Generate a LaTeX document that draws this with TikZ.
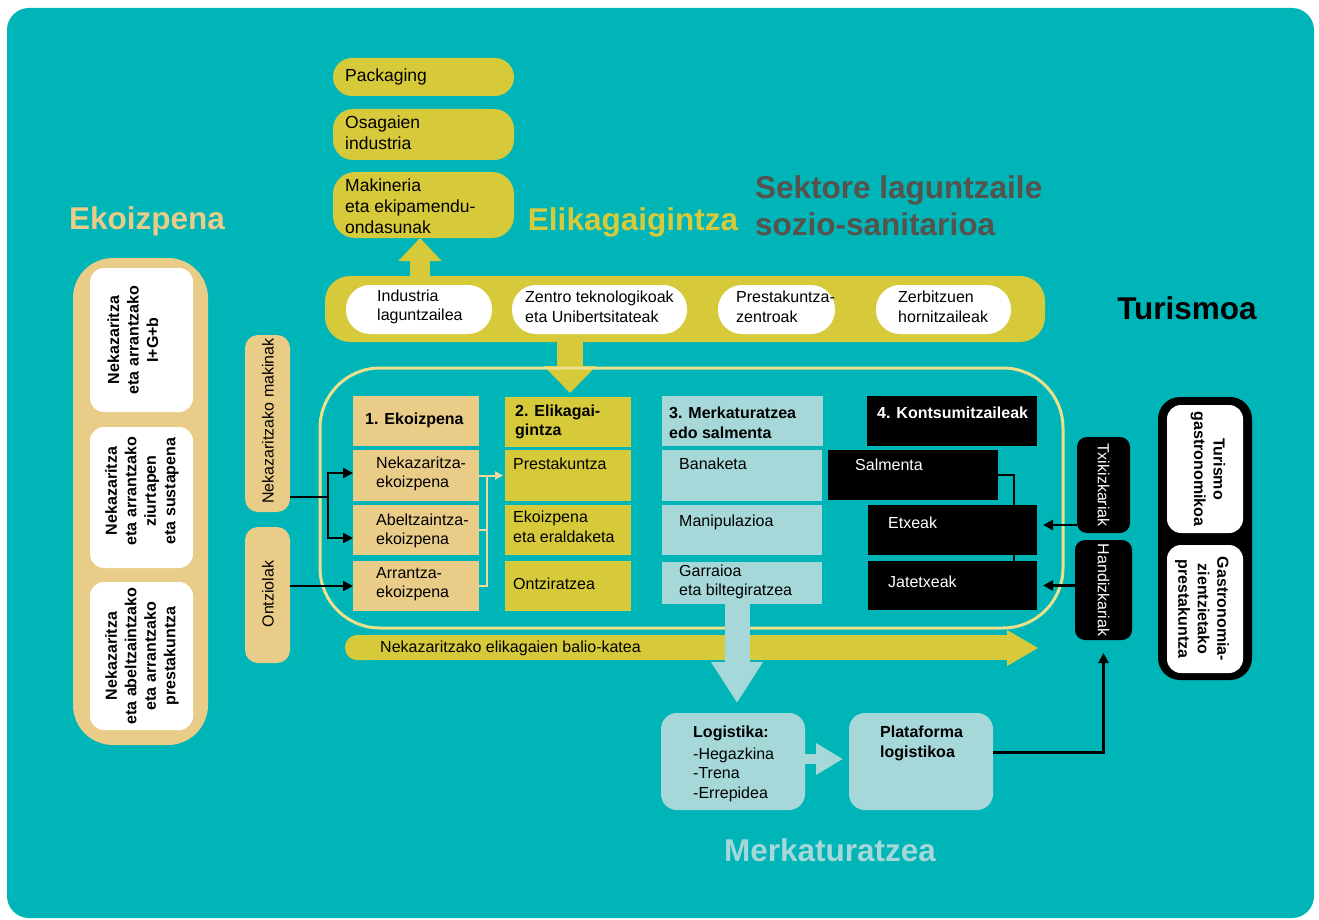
\documentclass[tikz,border=0pt]{standalone}
\usepackage{fontspec}
\setmainfont{Liberation Sans}
\usetikzlibrary{arrows.meta,fit,calc}
\definecolor{bgteal}{RGB}{0,181,184}
\definecolor{tanc}{RGB}{233,204,136}
\definecolor{yel}{RGB}{214,202,58}
\definecolor{lblue}{RGB}{166,216,218}
\definecolor{paleline}{RGB}{236,224,140}
\definecolor{cream}{RGB}{240,218,160}
\definecolor{dgray}{RGB}{85,83,75}
\begin{document}
\begin{tikzpicture}[x=1pt,y=-1pt,
  bx/.style={inner sep=0pt, outer sep=0pt},
  tx/.style={font=\fontsize{16}{19.5}\selectfont, inner sep=0pt, align=left, anchor=west},
  tb/.style={font=\fontsize{16}{19.5}\selectfont\bfseries, inner sep=0pt, align=left, anchor=west},
  ttl/.style={font=\fontsize{31.5}{37}\selectfont\bfseries, inner sep=0pt},
  arr/.style={-{Triangle[length=10pt,width=10pt]}, line width=2.4pt, draw=black},
  parr/.style={-{Triangle[length=8pt,width=8pt]}, line width=2pt, draw=cream},
]
\fill[white] (0,0) rectangle (1319,920);
\useasboundingbox (0,0) rectangle (1319,920);
\fill[bgteal, rounded corners=22pt] (7,8) rectangle (1314,918);

% titles
\node[ttl, text=tanc] (tEk) at (147,221) {Ekoizpena};
\node[ttl, text=yel] (tEl) at (633,222) {Elikagaigintza};
\node[ttl, text=dgray, align=left, anchor=west] (tSek) at (755,206) {Sektore laguntzaile\\sozio-sanitarioa};
\node[ttl, text=black] (tTur) at (1187,308) {Turismoa};
\node[ttl, text=lblue] (tMer) at (830,850) {Merkaturatzea};

% left group
\node[bx, fit={(73,258)(208,745)}, fill=tanc, rounded corners=40pt] (ekbox) {};
\node[bx, fit={(90,268)(193,412)}, fill=white, rounded corners=14pt] (w1) {};
\node[bx, fit={(90,427)(193,568)}, fill=white, rounded corners=14pt] (w2) {};
\node[bx, fit={(90,582)(193,730)}, fill=white, rounded corners=14pt] (w3) {};
\node[tb, rotate=90, align=center, anchor=center] (tw1) at (133,340) {Nekazaritza\\eta arrantzako\\I+G+b};
\node[tb, rotate=90, align=center, anchor=center] (tw2) at (142,491) {Nekazaritza\\eta arrantzako\\ziurtapen\\eta sustapena};
\node[tb, rotate=90, align=center, anchor=center] (tw3) at (142,656) {Nekazaritza\\eta abeltzaintzako\\eta arrantzako\\prestakuntza};

\node[bx, fit={(245,335)(290,512)}, fill=tanc, rounded corners=13pt] (mak) {};
\node[bx, fit={(245,527)(290,663)}, fill=tanc, rounded corners=13pt] (ont) {};
\node[tx, rotate=90, anchor=center] (tmak) at (268,421) {Nekazaritzako makinak};
\node[tx, rotate=90, anchor=center] (tont) at (268,594) {Ontziolak};

% top yellow boxes
\node[bx, fit={(333,58)(514,96)}, fill=yel, rounded corners=19pt] (pk) {};
\node[bx, fit={(333,109)(514,160)}, fill=yel, rounded corners=20pt] (os) {};
\node[bx, fit={(333,172)(514,238)}, fill=yel, rounded corners=22pt] (mk) {};
\node[tx, font=\fontsize{17.5}{21}\selectfont] (tpk) at (345,77) {Packaging};
\node[tx, font=\fontsize{17.5}{21}\selectfont] (tos) at (345,133) {Osagaien\\industria};
\node[tx, font=\fontsize{17.5}{21}\selectfont] (tmk) at (345,206) {Makineria\\eta ekipamendu-\\ondasunak};

% band of support sectors
\node[bx, fit={(325,276)(1045,342)}, fill=yel, rounded corners=25pt] (band) {};
\coordinate (cu) at (420,0);
\draw[yel, line width=20pt, -{Triangle[length=23pt,width=42pt]}] (band.center -| cu) -- (mk.south -| cu);
\coordinate (cd) at (570,0);
\draw[yel, line width=26pt, -{Triangle[length=27pt,width=51pt]}, shorten >=4pt] (band.center -| cd) -- (395,397 -| cd);
\node[bx, fit={(346,285)(492,334)}, fill=white, rounded corners=24pt] (s1) {};
\node[bx, fit={(512,285)(687,334)}, fill=white, rounded corners=24pt] (s2) {};
\node[bx, fit={(718,285)(835,334)}, fill=white, rounded corners=24pt] (s3) {};
\node[bx, fit={(876,285)(1011,334)}, fill=white, rounded corners=24pt] (s4) {};
\node[tx] (ts1) at (377,307) {Industria\\laguntzailea};
\node[tx] (ts2) at (525,307) {Zentro teknologikoak\\eta Unibertsitateak};
\node[tx] (ts3) at (736,307) {Prestakuntza-\\zentroak};
\node[tx] (ts4) at (898,307) {Zerbitzuen\\hornitzaileak};

% big outline
\draw[paleline, line width=3pt, rounded corners=60pt] (320,368) rectangle (1063,628);

% column 1
\node[bx, fit={(353,396)(479,446)}, fill=tanc] (h1) {};
\node[bx, fit={(353,450)(479,501)}, fill=tanc] (e1) {};
\node[bx, fit={(353,505)(479,555)}, fill=tanc] (e2) {};
\node[bx, fit={(353,561)(479,611)}, fill=tanc] (e3) {};
% column 2
\node[bx, fit={(505,397)(631,447)}, fill=yel] (h2) {};
\node[bx, fit={(505,450)(631,501)}, fill=yel] (p1) {};
\node[bx, fit={(505,505)(631,555)}, fill=yel] (p2) {};
\node[bx, fit={(505,561)(631,611)}, fill=yel] (p3) {};
% column 3
\node[bx, fit={(662,396)(823,446)}, fill=lblue] (h3) {};
\node[bx, fit={(662,450)(822,501)}, fill=lblue] (m1) {};
\node[bx, fit={(662,505)(822,555)}, fill=lblue] (m2) {};
\node[bx, fit={(662,562)(822,604)}, fill=lblue] (m3) {};
% column 4
\node[bx, fit={(867,396)(1037,446)}, fill=black] (h4) {};
\node[bx, fit={(828,450)(998,500)}, fill=black] (k1) {};
\node[bx, fit={(868,505)(1037,555)}, fill=black] (k2) {};
\node[bx, fit={(868,561)(1037,610)}, fill=black] (k3) {};

\node[tb] (th1) at (365,420) {1. Ekoizpena};
\node[tx] (te1) at (376,474) {Nekazaritza-\\ekoizpena};
\node[tx] (te2) at (376,531) {Abeltzaintza-\\ekoizpena};
\node[tx] (te3) at (376,584) {Arrantza-\\ekoizpena};
\node[tb] (th2) at (515,422) {2. Elikagai-\\gintza};
\node[tx] (tp1) at (513,464) {Prestakuntza};
\node[tx] (tp2) at (513,527) {Ekoizpena\\eta eraldaketa};
\node[tx] (tp3) at (513,584) {Ontziratzea};
\node[tb] (th3) at (669,423) {3. Merkaturatzea\\edo salmenta};
\node[tx] (tm1) at (679,464) {Banaketa};
\node[tx] (tm2) at (679,522) {Manipulazioa};
\node[tx] (tm3) at (679,582) {Garraioa\\eta biltegiratzea};
\node[tb, text=white] (th4) at (877,413) {4. Kontsumitzaileak};
\node[tx, text=white] (tk1) at (855,465) {Salmenta};
\node[tx, text=white] (tk2) at (888,523) {Etxeak};
\node[tx, text=white] (tk3) at (888,582) {Jatetxeak};

% connectors left
\coordinate (j1) at (328,497);
\draw[line width=2.4pt] (mak.east |- j1) -- (j1);
\draw[arr] (j1) |- ([yshift=2.5pt]e1.west);
\draw[arr] (j1) |- ([yshift=-8pt]e2.west);
\draw[arr] (ont.east |- e3.west) -- (e3.west);

% pale connectors col1 -> col2
\coordinate (v1) at (487,0);
\draw[cream, line width=2pt] (e3.east) -- (e3.east -| v1) -- (e1.east -| v1);
\draw[cream, line width=2pt] (e2.east) -- (e2.east -| v1);
\draw[parr] (e1.east) -- ([xshift=-2pt]p1.west);

% salmenta link
\coordinate (v2) at (1014,0);
\draw[black, line width=2pt] (k1.east) -| (k3.north -| v2);

% value chain arrow
\fill[yel, rounded corners=12pt] (345,635) rectangle (385,660);
\fill[yel] (370,635) rectangle (1008,660);
\fill[yel] (1007,630) -- (1038,648) -- (1007,666) -- cycle;
\node[tx] (tbk) at (380,648) {Nekazaritzako elikagaien balio-katea};

% logistics
\node[bx, fit={(661,713)(805,810)}, fill=lblue, rounded corners=16pt] (lg) {};
\node[bx, fit={(849,713)(993,810)}, fill=lblue, rounded corners=16pt] (pl) {};
\coordinate (ca) at (737,0);
\draw[lblue, line width=25pt, -{Triangle[length=41pt,width=49pt]}] (m3.south -| ca) -- ([yshift=10pt]lg.north -| ca);
\draw[lblue, line width=10pt, -{Triangle[length=27pt,width=30pt]}] ([xshift=-17pt,yshift=2.5pt]lg.east) -- ([xshift=-6pt,yshift=2.5pt]pl.west);
\node[tx, anchor=north west] (tlg) at (693,726) {\textbf{Logistika:}\\[2pt]-Hegazkina\\-Trena\\-Errepidea};
\node[tb, anchor=north west] (tpl) at (880,726) {Plataforma\\logistikoa};

% retailers
\node[bx, fit={(1077,437)(1130,533)}, fill=black, rounded corners=10pt] (txk) {};
\node[bx, fit={(1075,540)(1132,640)}, fill=black, rounded corners=10pt] (hdk) {};
\node[tx, text=white, rotate=-90, anchor=center] (ttxk) at (txk.center) {Txikizkariak};
\node[tx, text=white, rotate=-90, anchor=center] (thdk) at (hdk.center) {Handizkariak};
\coordinate (a1) at ([yshift=5pt]k2.east);
\draw[arr] (a1 -| txk.west) -- ([xshift=6pt]a1);
\draw[arr] (k3.east -| hdk.west) -- ([xshift=6pt]k3.east);
\coordinate (a2) at ([yshift=9pt]pl.east);
\draw[arr] (a2) -| ([yshift=-13pt]hdk.south);

% tourism
\node[bx, fit={(1158,397)(1252,680)}, fill=black, rounded corners=22pt] (tur) {};
\node[bx, fit={(1167,405)(1243,533)}, fill=white, rounded corners=14pt] (tu1) {};
\node[bx, fit={(1167,545)(1243,673)}, fill=white, rounded corners=14pt] (tu2) {};
\node[tb, rotate=-90, align=center, anchor=center] (ttu1) at (1208,469) {Turismo\\gastronomikoa};
\node[tb, rotate=-90, align=center, anchor=center] (ttu2) at (1202,609) {Gastronomia-\\zientzietako\\prestakuntza};
\end{tikzpicture}
\end{document}
